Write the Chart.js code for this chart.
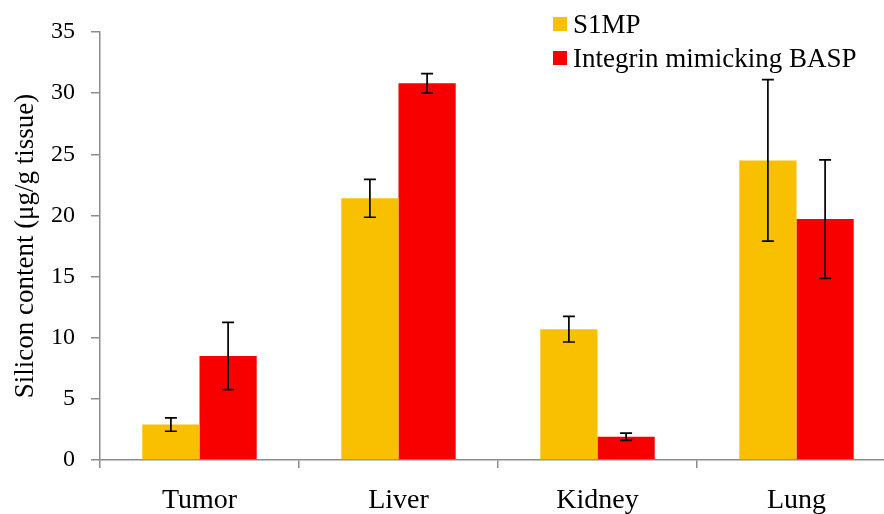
<!DOCTYPE html>
<html>
<head>
<meta charset="utf-8">
<script src="https://cdn.jsdelivr.net/npm/chart.js@4/dist/chart.umd.min.js"></script>
<style>
    html, body { margin: 0; padding: 0; background: #fff; overflow: hidden; }
    .wrap { position: relative; width: 884px; height: 514px; overflow: hidden; }
    #siliconChart { position: absolute; left: 0; top: 0; }
    .legend { position: absolute; left: 553px; top: 7px; font-family: "Liberation Serif", serif; font-size: 27px; color: #000; }
    .legend-item { display: flex; align-items: center; height: 34px; white-space: nowrap; }
    .legend-dot { display: inline-block; width: 14px; height: 14px; margin-right: 6px; }
</style>
</head>
<body>
<div class="wrap">
    <canvas id="siliconChart" width="896" height="514"></canvas>
    <div class="legend" id="legendGrid"></div>
</div>
<script>
const CATEGORIES = ['Tumor', 'Liver', 'Kidney', 'Lung'];
const SERIES_NAMES = ['S1MP', 'Integrin mimicking BASP'];
const S1MP_VALUES = [2.9, 21.4, 10.7, 24.5];
const S1MP_ERRORS = [0.55, 1.55, 1.05, 6.6];
const BASP_VALUES = [8.5, 30.8, 1.9, 19.7];
const BASP_ERRORS = [2.75, 0.8, 0.3, 4.85];
const Y_TICKS = [0, 5, 10, 15, 20, 25, 30, 35];

const COLORS = ['#F8C000', '#F80000'];
const AXIS_GREY = '#8c8c8c';
const FONT = '"Liberation Serif", "Times New Roman", serif';

// draws the black error whiskers on top of every bar
const errorBars = {
    id: 'errorBars',
    afterDatasetsDraw(chart) {
        const ctx = chart.ctx;
        const yScale = chart.scales.y;
        ctx.save();
        ctx.strokeStyle = '#000';
        ctx.lineWidth = 1.7;
        chart.data.datasets.forEach((ds, i) => {
            const meta = chart.getDatasetMeta(i);
            meta.data.forEach((bar, j) => {
                const v = ds.data[j];
                const e = ds.errors[j];
                const top = yScale.getPixelForValue(v + e);
                const bottom = yScale.getPixelForValue(v - e);
                const cap = 6;
                ctx.beginPath();
                ctx.moveTo(bar.x, top);
                ctx.lineTo(bar.x, bottom);
                ctx.moveTo(bar.x - cap, top);
                ctx.lineTo(bar.x + cap, top);
                ctx.moveTo(bar.x - cap, bottom);
                ctx.lineTo(bar.x + cap, bottom);
                ctx.stroke();
            });
        });
        ctx.restore();
    }
};

const ctx = document.getElementById('siliconChart').getContext('2d');
const chart = new Chart(ctx, {
    type: 'bar',
    data: {
        labels: CATEGORIES,
        datasets: [
            { label: SERIES_NAMES[0], data: S1MP_VALUES, errors: S1MP_ERRORS, backgroundColor: COLORS[0], borderWidth: 0 },
            { label: SERIES_NAMES[1], data: BASP_VALUES, errors: BASP_ERRORS, backgroundColor: COLORS[1], borderWidth: 0 }
        ]
    },
    options: {
        responsive: false,
        animation: false,
        layout: { padding: { top: 32, right: 0, bottom: 0, left: 0 } },
        datasets: {
            bar: { barPercentage: 1.0, categoryPercentage: 0.575 }
        },
        plugins: {
            legend: { display: false },
            tooltip: { enabled: false }
        },
        scales: {
            x: {
                afterFit: (scale) => { scale.height = 54; },
                grid: { display: true, drawOnChartArea: false, drawTicks: true, tickLength: 8, color: AXIS_GREY, lineWidth: 1.5, offset: true },
                border: { display: true, color: AXIS_GREY, width: 1.5 },
                ticks: { color: '#000', padding: 16, font: { family: FONT, size: 28 } }
            },
            y: {
                min: 0,
                max: 35,
                afterBuildTicks: (scale) => { scale.ticks = Y_TICKS.map(v => ({ value: v })); },
                afterFit: (scale) => { scale.width = 100; },
                grid: { display: true, drawOnChartArea: false, drawTicks: true, tickLength: 9, color: AXIS_GREY, lineWidth: 1.5 },
                border: { display: true, color: AXIS_GREY, width: 1.5 },
                ticks: { color: '#000', padding: 16, font: { family: FONT, size: 24 } },
                title: {
                    display: true,
                    text: 'Silicon content (μg/g tissue)',
                    color: '#000',
                    padding: { top: 10, bottom: 0 },
                    font: { family: FONT, size: 27 }
                }
            }
        }
    },
    plugins: [errorBars]
});

function buildLegend() {
    const grid = document.getElementById('legendGrid');
    grid.innerHTML = '';
    chart.data.datasets.forEach((ds) => {
        const item = document.createElement('div');
        item.className = 'legend-item';
        item.innerHTML = `
            <span class="legend-dot" style="background: ${ds.backgroundColor};"></span>
            <span>${ds.label}</span>
        `;
        grid.appendChild(item);
    });
}

buildLegend();
</script>
</body>
</html>
